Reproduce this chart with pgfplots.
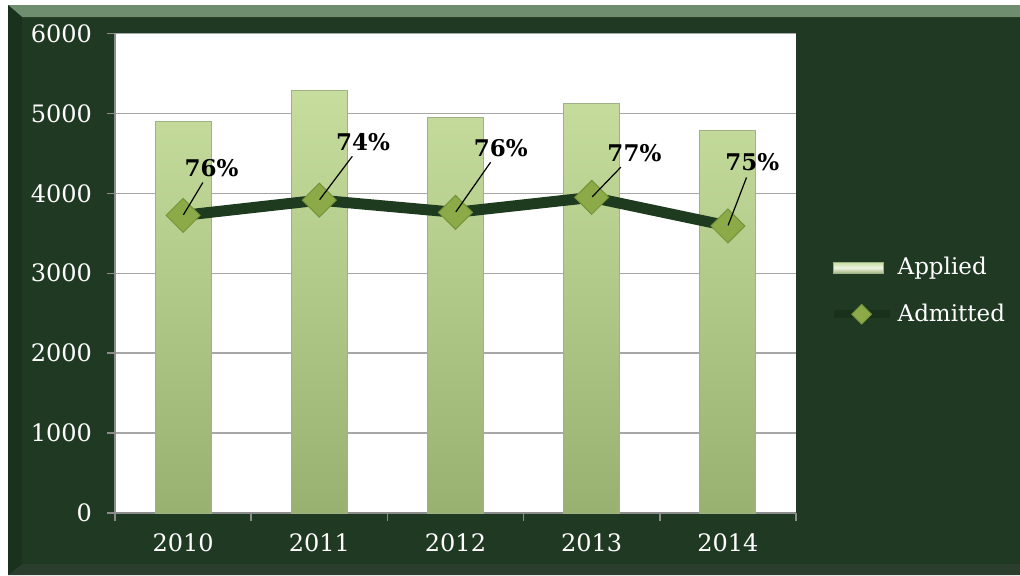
\documentclass[border=0pt]{standalone}
\usepackage{pgfplots}
\usepackage{pgfplotstable}
\pgfplotsset{compat=1.18}
\usepackage{fontspec}
\setmainfont{DejaVu Serif}

\definecolor{bg}{HTML}{1F3922}
\definecolor{bevtop}{HTML}{6F8E70}
\definecolor{bevbot}{HTML}{2B3E2D}
\definecolor{bevleft}{HTML}{1A321D}
\definecolor{axisgray}{HTML}{8C8C8C}
\definecolor{gridgray}{HTML}{A6A6A6}
\definecolor{bartop}{HTML}{C6DD9E}
\definecolor{barbot}{HTML}{98B170}
\definecolor{baredge}{HTML}{9FB287}
\definecolor{linegreen}{HTML}{1E3A1F}
\definecolor{markgreen}{HTML}{8CAB48}
\definecolor{markedge}{HTML}{75943A}

% year, applied, admitted, admit rate, label angle and distance
\pgfplotstableread{
x applied admitted pct ang dist
0 4900 3724 76 59 27.4
1 5290 3915 74 53 36.1
2 4950 3762 76 55 39.1
3 5130 3950 77 46 30.4
4 4790 3592 75 69 33.7
}\datatable

\begin{document}
\begin{tikzpicture}
\useasboundingbox (0,0) rectangle (510pt,287.5pt);
\fill[white] (0,0) rectangle (510pt,287.5pt);
\fill[bg] (4pt,0) rectangle (510pt,285pt);
\fill[bevtop] (4pt,285pt) -- (510pt,285pt) -- (510pt,279pt) -- (11pt,279pt) -- cycle;
\fill[bevbot] (4pt,0) -- (510pt,0) -- (510pt,5.5pt) -- (11pt,5.5pt) -- cycle;
\fill[bevleft] (4pt,0) -- (11pt,5.5pt) -- (11pt,279pt) -- (4pt,285pt) -- cycle;

\begin{axis}[
  at={(57.5pt,31pt)}, anchor=south west,
  scale only axis, width=340.5pt, height=239.75pt,
  xmin=-0.5, xmax=4.5, ymin=0, ymax=6000,
  axis background/.style={fill=white},
  axis x line*=bottom, axis y line*=left,
  axis line style={draw=axisgray, line width=0.75pt, -},
  xtick={-0.5,0.5,1.5,2.5,3.5,4.5},
  xticklabels={2010,2011,2012,2013,2014},
  x tick label as interval,
  ytick={0,1000,...,6000},
  tick align=outside,
  major tick length=4pt,
  tick style={draw=axisgray, line width=0.75pt},
  ymajorgrids, grid style={draw=gridgray, line width=0.75pt},
  ticklabel style={font=\fontsize{12}{14}\selectfont, text=white},
  yticklabel style={xshift=-4pt},
  xticklabel style={yshift=-3pt},
  /pgf/number format/assume math mode=true,
  scaled y ticks=false,
  /pgf/number format/1000 sep={},
  clip=false,
  legend style={at={(1.04,0.463)}, anchor=west, draw=none, fill=none,
    font=\fontsize{11.5}{13}\selectfont, text=white, row sep=9pt,
    nodes={inner xsep=2pt}},
  legend cell align=left,
]
\addplot[ybar, bar width=28pt, draw=baredge, line width=0.5pt,
  top color=bartop, bottom color=barbot,
  legend image code/.code={
    \shade[top color=bartop, bottom color=bartop!80!black, middle color=white!70!bartop]
      (0pt,-2.8pt) rectangle (25pt,2.8pt);}]
  table[x=x, y=applied]{\datatable};
\addlegendentry{Applied}

\addplot[line width=5.5pt, color=linegreen,
  mark=square*, mark size=6pt,
  mark options={rotate=45, fill=markgreen, draw=markedge, line width=0.5pt},
  visualization depends on={\thisrow{ang}\as\pa},
  visualization depends on={\thisrow{dist}\as\pd},
  visualization depends on={\thisrow{pct}\as\pc},
  nodes near coords={},
  every node near coord/.style={inner sep=0pt, minimum size=0pt, anchor=center,
    pin={[pin distance=\pd pt, anchor=center, pin edge={black, line width=0.6pt, shorten >=2pt},
      font=\bfseries\fontsize{11.5}{13}\selectfont, text=black, inner sep=1pt]\pa:{\pgfmathprintnumber[fixed,precision=0]{\pc}\%}}},
  legend image code/.code={
    \draw[linegreen!85!black, line width=4pt] (0pt,0pt) -- (28pt,0pt);
    \path[mark=square*, mark size=3.5pt,
      mark options={rotate=45, fill=markgreen, draw=markedge, line width=0.4pt}]
      plot coordinates {(14pt,0pt)};}]
  table[x=x, y=admitted]{\datatable};
\addlegendentry{Admitted}
\end{axis}
\end{tikzpicture}
\end{document}
